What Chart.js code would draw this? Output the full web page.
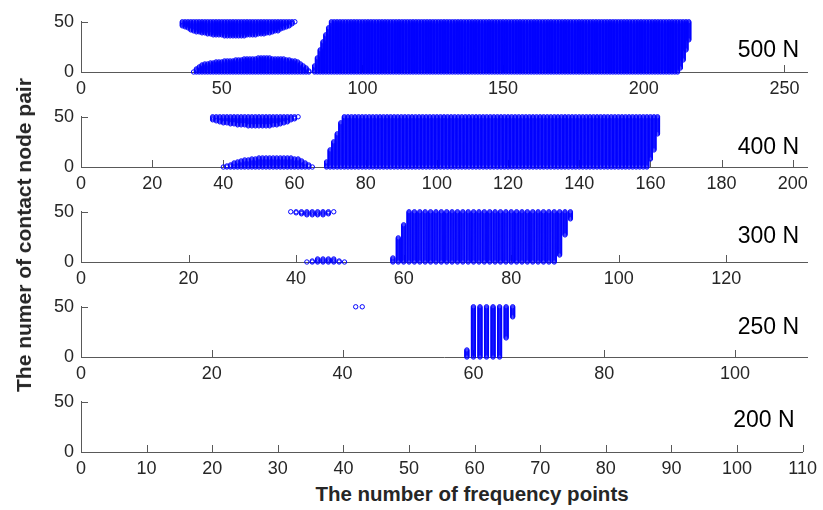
<!DOCTYPE html>
<html>
<head>
<meta charset="utf-8">
<script src="https://cdn.jsdelivr.net/npm/chart.js@4.4.0/dist/chart.umd.min.js"></script>
<style>
  html, body { margin: 0; padding: 0; background: #fff; }
  #wrap { position: relative; width: 823px; height: 510px; overflow: hidden; }
  #wrap canvas { position: absolute; left: 0; }
  .axis-title {
    position: absolute;
    font: bold 21px "Liberation Sans", Arial, sans-serif;
    color: #262626;
    white-space: nowrap;
  }
  #ytitle { left: 24px; top: 235px; transform: translate(-50%, -50%) rotate(-90deg); }
  #xtitle { left: 472px; top: 494px; transform: translate(-50%, -50%); font-size: 20.5px; }
</style>
</head>
<body>
<div id="wrap">
  <canvas id="c500" width="823" height="98" style="top:4px"></canvas>
  <canvas id="c400" width="823" height="98" style="top:99px"></canvas>
  <canvas id="c300" width="823" height="98" style="top:194px"></canvas>
  <canvas id="c250" width="823" height="98" style="top:289px"></canvas>
  <canvas id="c200" width="823" height="98" style="top:384px"></canvas>
  <div class="axis-title" id="ytitle">The numer of contact node pair</div>
  <div class="axis-title" id="xtitle">The number of frequency points</div>
</div>

<script>
/* =============================================================================
   Contact state vs frequency point - five load cases, one scatter per panel
   ============================================================================= */

// Panel labels (applied load)
const loadLabels = ['500 N', '400 N', '300 N', '250 N', '200 N'];

// Upper x limit of each panel (number of frequency points)
const xMax = [258, 204, 135, 111, 110];

// Tick labels
const xTicks500 = [0, 50, 100, 150, 200, 250];
const xTicks400 = [0, 20, 40, 60, 80, 100, 120, 140, 160, 180, 200];
const xTicks300 = [0, 20, 40, 60, 80, 100, 120];
const xTicks250 = [0, 20, 40, 60, 80, 100];
const xTicks200 = [0, 10, 20, 30, 40, 50, 60, 70, 80, 90, 100, 110];
const yTicks = [0, 50];

// Contact blocks: [xFrom, xTo, yFrom, yTo]
// every frequency point x in xFrom..xTo has contact node pairs yFrom..yTo
const contact500 = [
  // upper lobe
  [36, 36, 46, 50], [37, 37, 45, 50], [38, 38, 44, 50], [39, 39, 42, 50], [40, 40, 41, 50],
  [41, 42, 40, 50], [43, 44, 39, 50], [45, 46, 38, 50], [47, 50, 37, 50], [51, 58, 36, 50],
  [59, 62, 37, 50], [63, 65, 38, 50], [66, 67, 39, 50], [68, 68, 40, 50], [69, 70, 41, 50],
  [71, 71, 43, 50], [72, 72, 44, 50], [73, 73, 45, 50], [74, 74, 46, 50], [75, 75, 48, 50],
  [76, 76, 50, 50],
  // lower lobe
  [40, 40, 0, 0], [41, 41, 0, 3], [42, 42, 0, 5], [43, 43, 0, 7], [44, 45, 0, 8],
  [46, 47, 0, 9], [48, 50, 0, 10], [51, 54, 0, 11], [55, 57, 0, 12], [58, 62, 0, 13],
  [63, 67, 0, 14], [68, 72, 0, 13], [73, 74, 0, 12], [75, 76, 0, 11], [77, 77, 0, 10],
  [78, 78, 0, 8], [79, 79, 0, 6], [80, 80, 0, 4], [81, 81, 0, 1],
  // full contact band
  [83, 83, 0, 6], [84, 84, 0, 14], [85, 85, 0, 22], [86, 86, 0, 30], [87, 87, 0, 37],
  [88, 88, 0, 44], [89, 212, 0, 50], [213, 213, 4, 50], [214, 214, 12, 50],
  [215, 215, 22, 50], [216, 216, 32, 50]
];

const contact400 = [
  // upper lobe
  [37, 37, 47, 50], [38, 38, 46, 50], [39, 39, 45, 50], [40, 41, 44, 50], [42, 43, 43, 50],
  [44, 46, 42, 50], [47, 53, 41, 50], [54, 55, 42, 50], [56, 56, 43, 50], [57, 57, 44, 50],
  [58, 58, 45, 50], [59, 59, 47, 50], [60, 60, 48, 50], [61, 61, 50, 50],
  // lower lobe
  [40, 40, 0, 0], [41, 41, 0, 1], [42, 42, 0, 2], [43, 43, 0, 4], [44, 44, 0, 5],
  [45, 45, 0, 6], [46, 47, 0, 7], [48, 49, 0, 8], [50, 59, 0, 9], [60, 61, 0, 8],
  [62, 62, 0, 6], [63, 63, 0, 4], [64, 64, 0, 2], [65, 65, 0, 0],
  // full contact band
  [69, 69, 0, 5], [70, 70, 0, 17], [71, 71, 0, 25], [72, 72, 0, 33], [73, 73, 0, 44],
  [74, 159, 0, 50], [160, 160, 8, 50], [161, 161, 17, 50], [162, 162, 33, 50]
];

const contact300 = [
  [39, 39, 50, 50], [40, 40, 49, 50], [41, 41, 48, 50], [42, 45, 47, 50], [46, 46, 48, 50],
  [47, 47, 50, 50],
  [42, 42, 0, 0], [43, 43, 0, 1], [44, 47, 0, 3], [48, 48, 0, 1], [49, 49, 0, 0],
  [58, 58, 0, 4], [59, 59, 0, 24], [60, 60, 0, 37], [61, 88, 0, 50], [89, 89, 7, 50],
  [90, 90, 27, 50], [91, 91, 43, 50]
];

const contact250 = [
  [42, 43, 50, 50], [59, 59, 0, 7], [60, 64, 0, 50], [65, 65, 19, 50], [66, 66, 40, 50]
];

const contact200 = [];

// Styling
const FONT = '"Liberation Sans", Arial, Helvetica, sans-serif';
const TEXT_COLOR = '#262626';
const AXIS_COLOR = '#595959';
const MARK_COLOR = '#0000ff';

/**
 * Expand contact blocks into one point per (frequency point, node pair)
 */
function contactPoints(blocks) {
  const pts = [];
  blocks.forEach(([x0, x1, y0, y1]) => {
    for (let x = x0; x <= x1; x++) {
      for (let y = y0; y <= y1; y++) pts.push({ x, y });
    }
  });
  return pts;
}

/**
 * MATLAB style ticks pointing into the axes
 */
const inwardTicks = {
  id: 'inwardTicks',
  beforeDatasetsDraw(chart) {
    const { ctx, chartArea, scales } = chart;
    ctx.save();
    ctx.strokeStyle = AXIS_COLOR;
    ctx.lineWidth = 1;
    ctx.beginPath();
    scales.x.ticks.forEach(t => {
      const px = Math.round(scales.x.getPixelForValue(t.value)) + 0.5;
      ctx.moveTo(px, chartArea.bottom);
      ctx.lineTo(px, chartArea.bottom - 7);
    });
    scales.y.ticks.forEach(t => {
      const py = Math.round(scales.y.getPixelForValue(t.value)) + 0.5;
      ctx.moveTo(chartArea.left, py);
      ctx.lineTo(chartArea.left + 7, py);
    });
    ctx.stroke();
    ctx.restore();
  }
};

/**
 * Load label in the upper right of each panel
 */
const loadLabel = {
  id: 'loadLabel',
  afterDraw(chart, args, opts) {
    const { ctx, chartArea } = chart;
    ctx.save();
    ctx.font = `23px ${FONT}`;
    ctx.fillStyle = '#000';
    ctx.textAlign = 'right';
    ctx.textBaseline = 'middle';
    ctx.fillText(opts.text, chartArea.right - 8, chartArea.top + opts.dy);
    ctx.restore();
  }
};

/**
 * Render one contact panel
 */
function renderContactPanel(canvasId, blocks, xLimit, xTicks, label, labelDy) {
  const canvas = document.getElementById(canvasId);
  if (!canvas) {
    console.error(`Canvas element with ID "${canvasId}" not found`);
    return null;
  }

  const tickFont = { family: FONT, size: 18 };

  return new Chart(canvas.getContext('2d'), {
    type: 'scatter',
    data: {
      datasets: [{
        data: contactPoints(blocks),
        pointStyle: 'circle',
        pointRadius: 2.2,
        pointBorderWidth: 1,
        pointBorderColor: MARK_COLOR,
        pointBackgroundColor: 'rgba(0,0,0,0)',
        showLine: false,
        clip: false
      }]
    },
    options: {
      responsive: false,
      animation: false,
      events: [],
      layout: { padding: { left: 0, right: 16, top: 10, bottom: 0 } },
      plugins: {
        legend: { display: false },
        tooltip: { enabled: false },
        loadLabel: { text: label, dy: labelDy }
      },
      scales: {
        x: {
          type: 'linear',
          min: 0,
          max: xLimit,
          afterBuildTicks: s => { s.ticks = xTicks.map(v => ({ value: v })); },
          afterFit: s => { s.height = 30; },
          grid: { display: false, drawTicks: false },
          border: { display: true, color: AXIS_COLOR, width: 1 },
          ticks: { color: TEXT_COLOR, font: tickFont, padding: 6, maxRotation: 0, autoSkip: false }
        },
        y: {
          type: 'linear',
          min: 0,
          max: 50,
          afterBuildTicks: s => { s.ticks = yTicks.map(v => ({ value: v })); },
          afterFit: s => { s.width = 81; },
          grid: { display: false, drawTicks: false },
          border: { display: true, color: AXIS_COLOR, width: 1 },
          ticks: { color: TEXT_COLOR, font: tickFont, padding: 7 }
        }
      }
    },
    plugins: [inwardTicks, loadLabel]
  });
}

renderContactPanel('c500', contact500, xMax[0], xTicks500, loadLabels[0], 29);
renderContactPanel('c400', contact400, xMax[1], xTicks400, loadLabels[1], 31);
renderContactPanel('c300', contact300, xMax[2], xTicks300, loadLabels[2], 25);
renderContactPanel('c250', contact250, xMax[3], xTicks250, loadLabels[3], 21);
renderContactPanel('c200', contact200, xMax[4], xTicks200, loadLabels[4], 19);
</script>
</body>
</html>
